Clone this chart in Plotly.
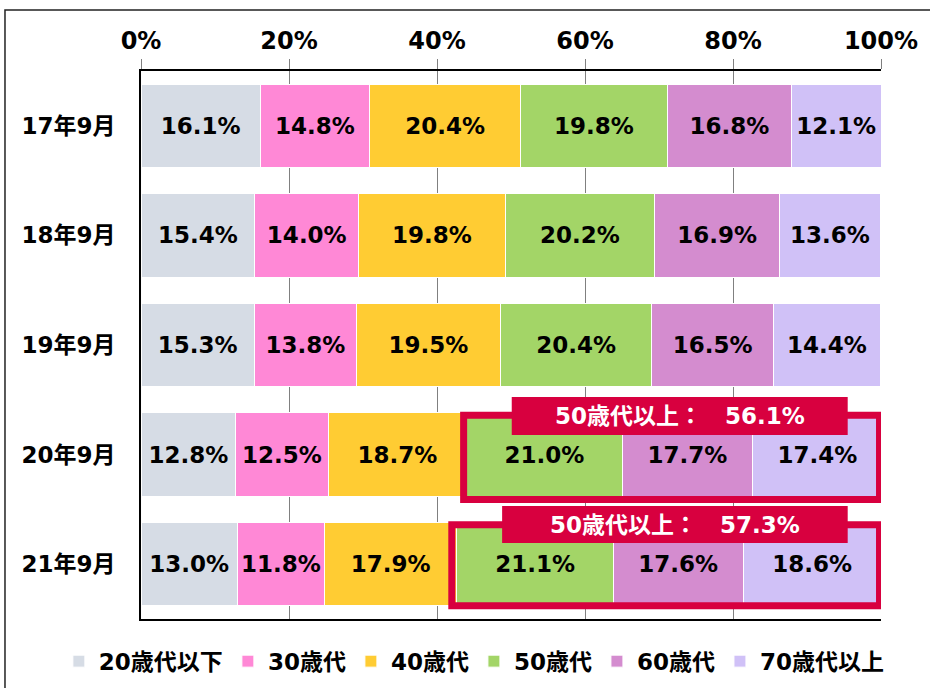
import plotly.graph_objects as go

periods = ["17年9月", "18年9月", "19年9月", "20年9月", "21年9月"]
age_groups = ["20歳代以下", "30歳代", "40歳代", "50歳代", "60歳代", "70歳代以上"]

under20 = [16.1, 15.4, 15.3, 12.8, 13.0]
age30 = [14.8, 14.0, 13.8, 12.5, 11.8]
age40 = [20.4, 19.8, 19.5, 18.7, 17.9]
age50 = [19.8, 20.2, 20.4, 21.0, 21.1]
age60 = [16.8, 16.9, 16.5, 17.7, 17.6]
over70 = [12.1, 13.6, 14.4, 17.4, 18.6]

series = [under20, age30, age40, age50, age60, over70]
colors = ["#D6DCE5", "#FF88D6", "#FFCC33", "#A3D567", "#D48CCF", "#D0C1F7"]
highlight_rows = [3, 4]  # 20年9月, 21年9月
RED = "#D8003F"
FONT = "DejaVu Sans, Noto Sans CJK JP"

fig = go.Figure()
for name, vals, col in zip(age_groups, series, colors):
    fig.add_trace(go.Bar(
        y=periods, x=vals, name=name, orientation="h",
        marker=dict(color=col, line=dict(color="white", width=1)),
        text=[f"{v:.1f}%" for v in vals],
        textposition="inside", insidetextanchor="middle",
        constraintext="none",
        textfont=dict(family=FONT, size=23, color="black", weight="bold"),
        hoverinfo="skip",
    ))

shapes = []
annotations = []
# frame around the whole picture
shapes.append(dict(type="rect", xref="paper", yref="paper",
                   x0=-0.1838, x1=1.08, y0=-0.16, y1=1.1113,
                   line=dict(color="#222", width=1.5), layer="below"))

box_rows = {3: (2.64, 3.41, 2.474, 2.821), 4: (3.64, 4.38, 3.469, 3.807)}
label_x = {3: (50.1, 95.5), 4: (48.8, 95.5)}
for i in highlight_rows:
    start = under20[i] + age30[i] + age40[i]
    total = age50[i] + age60[i] + over70[i]
    y0, y1, ly0, ly1 = box_rows[i]
    shapes.append(dict(type="rect", xref="x", yref="y",
                       x0=start - 0.4 - 0.3 * (i - 3), x1=99.8, y0=y0, y1=y1,
                       line=dict(color=RED, width=7), layer="above"))
    lx0, lx1 = label_x[i]
    shapes.append(dict(type="rect", xref="x", yref="y",
                       x0=lx0, x1=lx1, y0=ly0, y1=ly1,
                       fillcolor=RED, line=dict(width=0), layer="above"))
    annotations.append(dict(x=(lx0 + lx1) / 2, y=(ly0 + ly1) / 2, xref="x", yref="y",
                            text=f"50歳代以上：　{total:.1f}%", showarrow=False,
                            font=dict(family=FONT, size=23, color="white", weight="bold")))

fig.update_layout(
    barmode="stack", bargap=0.24,
    width=930, height=688,
    margin=dict(l=141, r=49, t=71, b=69, autoexpand=False),
    paper_bgcolor="white", plot_bgcolor="white",
    font=dict(family=FONT, color="black"),
    shapes=shapes, annotations=annotations,
    legend=dict(orientation="h", x=-0.111, xanchor="left", y=-0.077, yanchor="middle",
                font=dict(family=FONT, size=23, color="black", weight="bold"),
                itemwidth=30, traceorder="normal", itemclick=False),
)
fig.update_xaxes(
    range=[0, 100], dtick=20, ticksuffix="%", side="top",
    showgrid=True, gridcolor="#808080", gridwidth=1,
    ticks="outside", ticklen=10, tickcolor="#808080",
    showline=True, linecolor="black", linewidth=2, mirror=True,
    tickfont=dict(family=FONT, size=24, color="black", weight="bold"),
    fixedrange=True,
)
fig.update_yaxes(
    range=[4.5, -0.5], type="category",
    showline=True, linecolor="black", linewidth=2,
    ticks="", ticklabelstandoff=19,
    tickfont=dict(family=FONT, size=23, color="black", weight="bold"),
    fixedrange=True,
)

fig.write_html("out.html", config={"displayModeBar": False},
               post_script="document.body.style.margin='0px';")
